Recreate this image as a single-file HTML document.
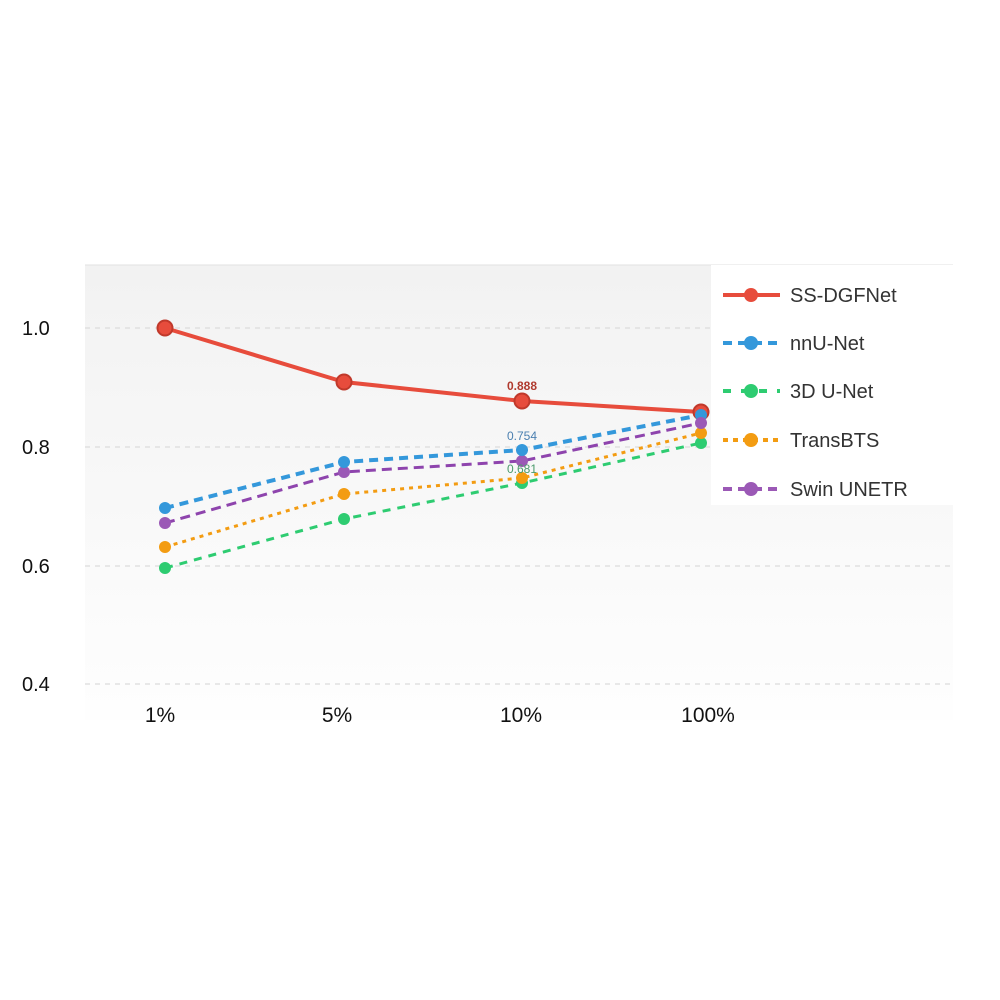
<!DOCTYPE html>
<html><head><meta charset="utf-8"><style>
html,body{margin:0;padding:0;background:#fff;}
svg{display:block;font-family:"Liberation Sans",Arial,sans-serif;}
</style></head><body>
<svg width="1000" height="1000" viewBox="0 0 1000 1000">
<defs>
<linearGradient id="bg" x1="0" y1="0" x2="0" y2="1">
<stop offset="0" stop-color="#f2f2f2"/><stop offset="1" stop-color="#fefefe"/>
</linearGradient>
</defs>
<rect x="0" y="0" width="1000" height="1000" fill="#fff"/>
<rect x="85" y="265" width="868" height="455" fill="url(#bg)"/>
<line x1="85" y1="265" x2="953" y2="265" stroke="#e2e2e2" stroke-width="1"/>
<g stroke="#dcdcdc" stroke-width="1.2" stroke-dasharray="5,5">
<line x1="85" y1="328" x2="953" y2="328"/>
<line x1="85" y1="447" x2="953" y2="447"/>
<line x1="85" y1="566" x2="953" y2="566"/>
<line x1="85" y1="684" x2="953" y2="684"/>
</g>
<g font-size="20" fill="#111">
<text x="22" y="335">1.0</text>
<text x="22" y="454">0.8</text>
<text x="22" y="573">0.6</text>
<text x="22" y="691">0.4</text>
</g>
<g font-size="21" fill="#111" text-anchor="middle">
<text x="160" y="722">1%</text>
<text x="337" y="722">5%</text>
<text x="521" y="722">10%</text>
<text x="708" y="722">100%</text>
</g>
<polyline points="165,568 344,519 522,483 701,443" fill="none" stroke="#2ecc71" stroke-width="3" stroke-dasharray="8,7"/>
<polyline points="165,547 344,494 522,478 701,433" fill="none" stroke="#f39c12" stroke-width="3" stroke-dasharray="4,5"/>
<polyline points="165,523 344,472 522,461 701,423" fill="none" stroke="#8e44ad" stroke-width="3" stroke-dasharray="10,6"/>
<polyline points="165,508 344,462 522,450 701,415" fill="none" stroke="#3498db" stroke-width="4" stroke-dasharray="9,6"/>
<polyline points="165,328 344,382 522,401 701,412" fill="none" stroke="#e74c3c" stroke-width="4"/>
<g fill="#2ecc71"><circle cx="165" cy="568" r="6"/><circle cx="344" cy="519" r="6"/><circle cx="522" cy="483" r="6"/><circle cx="701" cy="443" r="6"/></g>
<g fill="#f39c12"><circle cx="165" cy="547" r="6"/><circle cx="344" cy="494" r="6"/><circle cx="522" cy="478" r="6"/><circle cx="701" cy="433" r="6"/></g>
<g fill="#9b59b6"><circle cx="165" cy="523" r="6"/><circle cx="344" cy="472" r="6"/><circle cx="522" cy="461" r="6"/></g>
<g fill="#e74c3c" stroke="#c0392b" stroke-width="2"><circle cx="165" cy="328" r="7.5"/><circle cx="344" cy="382" r="7.5"/><circle cx="522" cy="401" r="7.5"/><circle cx="701" cy="412" r="7.5"/></g>
<g fill="#3498db"><circle cx="165" cy="508" r="6"/><circle cx="344" cy="462" r="6"/><circle cx="522" cy="450" r="6"/><circle cx="701" cy="415" r="6"/></g>
<circle cx="701" cy="423" r="6" fill="#9b59b6"/>
<text x="522" y="390" font-size="12" font-weight="bold" fill="#b03a2e" text-anchor="middle">0.888</text>
<text x="522" y="440" font-size="12" fill="#4a7fb0" text-anchor="middle">0.754</text>
<text x="522" y="473" font-size="12" fill="#4a9a6a" text-anchor="middle">0.681</text>
<rect x="711" y="265" width="242" height="240" fill="#fff"/>
<g stroke-width="4">
<line x1="723" y1="295" x2="780" y2="295" stroke="#e74c3c"/>
<line x1="723" y1="343" x2="780" y2="343" stroke="#3498db" stroke-dasharray="9,6"/>
<line x1="723" y1="391" x2="780" y2="391" stroke="#2ecc71" stroke-dasharray="8,10"/>
<line x1="723" y1="440" x2="780" y2="440" stroke="#f39c12" stroke-dasharray="5,5"/>
<line x1="723" y1="489" x2="780" y2="489" stroke="#9b59b6" stroke-dasharray="9,6"/>
</g>
<circle cx="751" cy="295" r="7" fill="#e74c3c"/>
<circle cx="751" cy="343" r="7" fill="#3498db"/>
<circle cx="751" cy="391" r="7" fill="#2ecc71"/>
<circle cx="751" cy="440" r="7" fill="#f39c12"/>
<circle cx="751" cy="489" r="7" fill="#9b59b6"/>
<g font-size="20" fill="#333">
<text x="790" y="302">SS-DGFNet</text>
<text x="790" y="350">nnU-Net</text>
<text x="790" y="398">3D U-Net</text>
<text x="790" y="447">TransBTS</text>
<text x="790" y="496">Swin UNETR</text>
</g>
</svg>
</body></html>
